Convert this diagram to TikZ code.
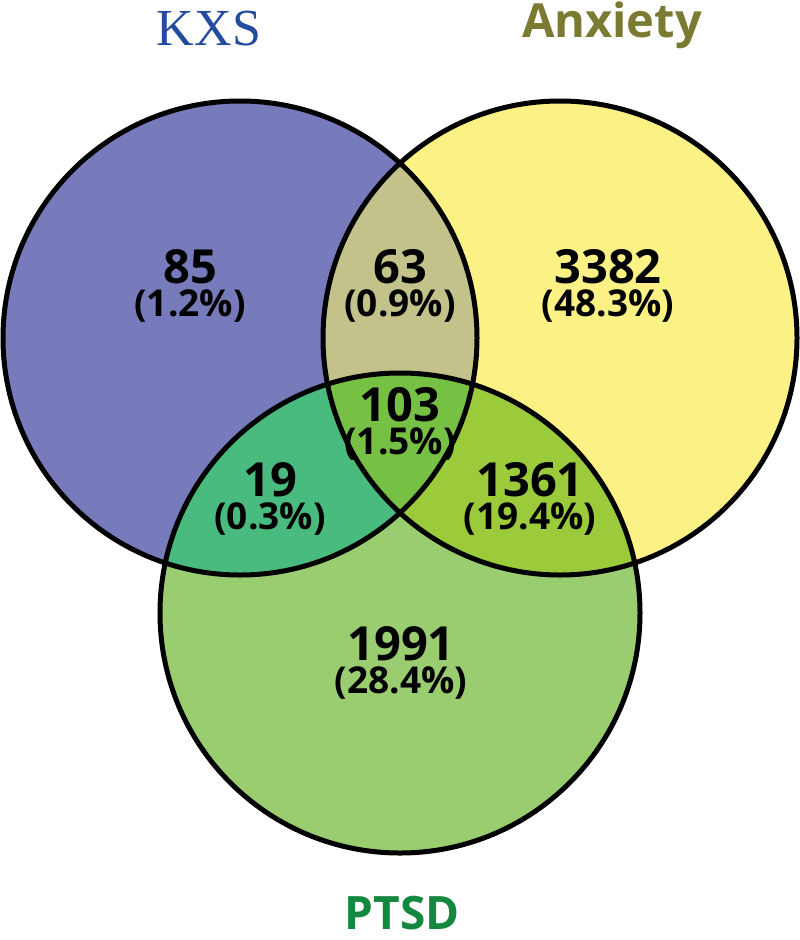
\documentclass[tikz,border=0pt]{standalone}
\usepackage{fontspec}
\setmainfont{Open Sans}
\newfontfamily\kxsfont{Liberation Serif}
\definecolor{cK}{HTML}{777BBB}
\definecolor{cA}{HTML}{FBF185}
\definecolor{cP}{HTML}{9ACD70}
\definecolor{cKA}{HTML}{C2C28A}
\definecolor{cKP}{HTML}{49BB7F}
\definecolor{cAP}{HTML}{9BCB3B}
\definecolor{cKAP}{HTML}{76C043}
\definecolor{tK}{HTML}{234BA0}
\definecolor{tA}{HTML}{7A7A32}
\definecolor{tP}{HTML}{148741}
\newcommand\regtext[2]{{\fontsize{47}{47}\selectfont #1}\\#2}
\tikzset{
  region/.style={align=center, anchor=center, inner sep=0pt, font=\fontsize{37}{33}\selectfont\bfseries},
  outline/.style={draw=black, line width=5pt}
}
\begin{document}
\begin{tikzpicture}[x=1pt,y=-1pt]
\useasboundingbox[fill=white] (0,0) rectangle (800,940);
\coordinate (ck) at (240,338);
\coordinate (ca) at (560,338);
\coordinate (cp) at (400,613);
% base fills
\fill[cK] (ck) circle[radius=237pt];
\fill[cA] (ca) circle[radius=237pt];
\fill[cP] (cp) circle[radius=240pt];
% pairwise overlaps
\begin{scope}
  \clip (ck) circle[radius=237pt];
  \fill[cKA] (ca) circle[radius=237pt];
\end{scope}
\begin{scope}
  \clip (ck) circle[radius=237pt];
  \fill[cKP] (cp) circle[radius=240pt];
\end{scope}
\begin{scope}
  \clip (ca) circle[radius=237pt];
  \fill[cAP] (cp) circle[radius=240pt];
\end{scope}
\begin{scope}
  \clip (ck) circle[radius=237pt];
  \clip (ca) circle[radius=237pt];
  \fill[cKAP] (cp) circle[radius=240pt];
\end{scope}
% outlines
\draw[outline] (ck) circle[radius=237pt];
\draw[outline] (ca) circle[radius=237pt];
\draw[outline] (cp) circle[radius=240pt];
% region texts
\node[region] (r85) at (190,286) {\regtext{85}{(1.2\%)}};
\node[region] (r63) at (400,286) {\regtext{63}{(0.9\%)}};
\node[region] (r3382) at (608,286) {\regtext{3382}{(48.3\%)}};
\node[region] (r103) at (400,424) {\regtext{103}{(1.5\%)}};
\node[region] (r19) at (270,499) {\regtext{19}{(0.3\%)}};
\node[region] (r1361) at (530,499) {\regtext{1361}{(19.4\%)}};
\node[region] (r1991) at (401,663) {\regtext{1991}{(28.4\%)}};
% set labels
\node[anchor=base, inner sep=0pt, text=tK, font=\kxsfont\fontsize{52}{52}\selectfont] (lk) at (209,45) {KXS};
\node[anchor=base, inner sep=0pt, text=tA, font=\fontsize{47}{47}\selectfont\bfseries] (la) at (612,37) {Anxiety};
\node[anchor=base, inner sep=0pt, text=tP, font=\fontsize{46}{46}\selectfont\bfseries] (lp) at (402,929) {PTSD};
\end{tikzpicture}
\end{document}
